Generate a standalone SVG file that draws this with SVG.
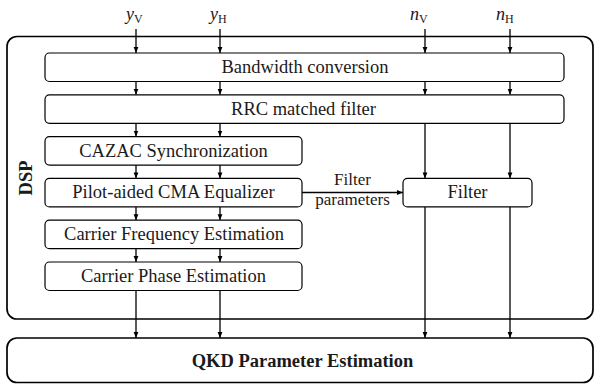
<svg xmlns="http://www.w3.org/2000/svg" width="595" height="384" viewBox="0 0 595 384" font-family="'Liberation Serif', serif">
<defs>
<marker id="ah" markerUnits="userSpaceOnUse" markerWidth="6" markerHeight="6" refX="6" refY="3" orient="auto">
<path d="M0,0.6 L6,3 L0,5.4 z" fill="#000"/>
</marker>
<style>
.box{fill:#fff;stroke:#000;stroke-width:1.2}
.outer{fill:none;stroke:#000;stroke-width:1.7}
.t{font-size:18.5px;fill:#1a1a1a;text-anchor:middle}
.s{font-size:17px}
.b{font-weight:bold}
.m{font-size:18px;fill:#1a1a1a}
.sub{font-size:12px;font-style:normal}
.c{stroke:#000;stroke-width:1.3;fill:none}
.a{marker-end:url(#ah)}
</style>
</defs>
<rect width="595" height="384" fill="#fff"/>

<g id="dsp">
<rect class="outer" x="7" y="36.5" width="586" height="282.5" rx="10"/>
<text class="t b" font-family="'Liberation Serif', serif" transform="translate(32,178) rotate(-90)">DSP</text>
</g>

<g id="qkd">
<rect class="outer" x="7" y="338" width="586" height="44.5" rx="10"/>
<text class="t b" font-family="'Liberation Serif', serif" x="302.5" y="367">QKD Parameter Estimation</text>
</g>

<g id="inputs">
<text class="m" font-family="'Liberation Serif', serif" x="126" y="20"><tspan font-style="italic">y</tspan><tspan class="sub" dy="2.5">V</tspan></text>
<text class="m" font-family="'Liberation Serif', serif" x="210" y="20"><tspan font-style="italic">y</tspan><tspan class="sub" dy="2.5">H</tspan></text>
<text class="m" font-family="'Liberation Serif', serif" x="410" y="20"><tspan font-style="italic">n</tspan><tspan class="sub" dy="2.5">V</tspan></text>
<text class="m" font-family="'Liberation Serif', serif" x="496" y="20"><tspan font-style="italic">n</tspan><tspan class="sub" dy="2.5">H</tspan></text>
</g>

<g id="connectors">
<line class="c a" x1="136" y1="29" x2="136" y2="53"/>
<line class="c a" x1="220" y1="29" x2="220" y2="53"/>
<line class="c a" x1="425" y1="29" x2="425" y2="53"/>
<line class="c a" x1="510" y1="29" x2="510" y2="53"/>
<line class="c a" x1="136" y1="81.5" x2="136" y2="94.8"/>
<line class="c a" x1="220" y1="81.5" x2="220" y2="94.8"/>
<line class="c a" x1="425" y1="81.5" x2="425" y2="94.8"/>
<line class="c a" x1="510" y1="81.5" x2="510" y2="94.8"/>
<line class="c a" x1="136" y1="123.3" x2="136" y2="136.6"/>
<line class="c a" x1="220" y1="123.3" x2="220" y2="136.6"/>
<line class="c a" x1="425" y1="123.3" x2="425" y2="178.4"/>
<line class="c a" x1="510" y1="123.3" x2="510" y2="178.4"/>
<line class="c a" x1="136" y1="165.1" x2="136" y2="178.4"/>
<line class="c a" x1="220" y1="165.1" x2="220" y2="178.4"/>
<line class="c a" x1="136" y1="206.9" x2="136" y2="220.2"/>
<line class="c a" x1="220" y1="206.9" x2="220" y2="220.2"/>
<line class="c a" x1="136" y1="248.7" x2="136" y2="262"/>
<line class="c a" x1="220" y1="248.7" x2="220" y2="262"/>
<line class="c a" x1="136" y1="290.5" x2="136" y2="338"/>
<line class="c a" x1="220" y1="290.5" x2="220" y2="338"/>
<line class="c a" x1="425" y1="206.9" x2="425" y2="338"/>
<line class="c a" x1="510" y1="206.9" x2="510" y2="338"/>
<line class="c a" x1="302" y1="192.5" x2="403" y2="192.5"/>
<text class="t s" font-family="'Liberation Serif', serif" x="352.5" y="185">Filter</text>
<text class="t s" font-family="'Liberation Serif', serif" x="352.5" y="204.5">parameters</text>
</g>

<g id="bandwidth">
<rect class="box" x="45" y="53" width="519" height="28.5" rx="4.5"/>
<text class="t" font-family="'Liberation Serif', serif" x="305" y="73">Bandwidth conversion</text>
</g>
<g id="rrc">
<rect class="box" x="45" y="94.8" width="519" height="28.5" rx="4.5"/>
<text class="t" font-family="'Liberation Serif', serif" x="303.5" y="114.8">RRC matched filter</text>
</g>
<g id="cazac">
<rect class="box" x="45" y="136.6" width="257" height="28.5" rx="4.5"/>
<text class="t" font-family="'Liberation Serif', serif" x="173.5" y="156.6">CAZAC Synchronization</text>
</g>
<g id="pilot">
<rect class="box" x="45" y="178.4" width="257" height="28.5" rx="4.5"/>
<text class="t" font-family="'Liberation Serif', serif" x="173.5" y="198.4">Pilot-aided CMA Equalizer</text>
</g>
<g id="cfe">
<rect class="box" x="45" y="220.2" width="257" height="28.5" rx="4.5"/>
<text class="t" font-family="'Liberation Serif', serif" x="174" y="240.2">Carrier Frequency Estimation</text>
</g>
<g id="cpe">
<rect class="box" x="45" y="262" width="257" height="28.5" rx="4.5"/>
<text class="t" font-family="'Liberation Serif', serif" x="173.5" y="282">Carrier Phase Estimation</text>
</g>
<g id="filter">
<rect class="box" x="403" y="178.4" width="129" height="28.5" rx="4.5"/>
<text class="t" font-family="'Liberation Serif', serif" x="467.5" y="198.4">Filter</text>
</g>
</svg>
